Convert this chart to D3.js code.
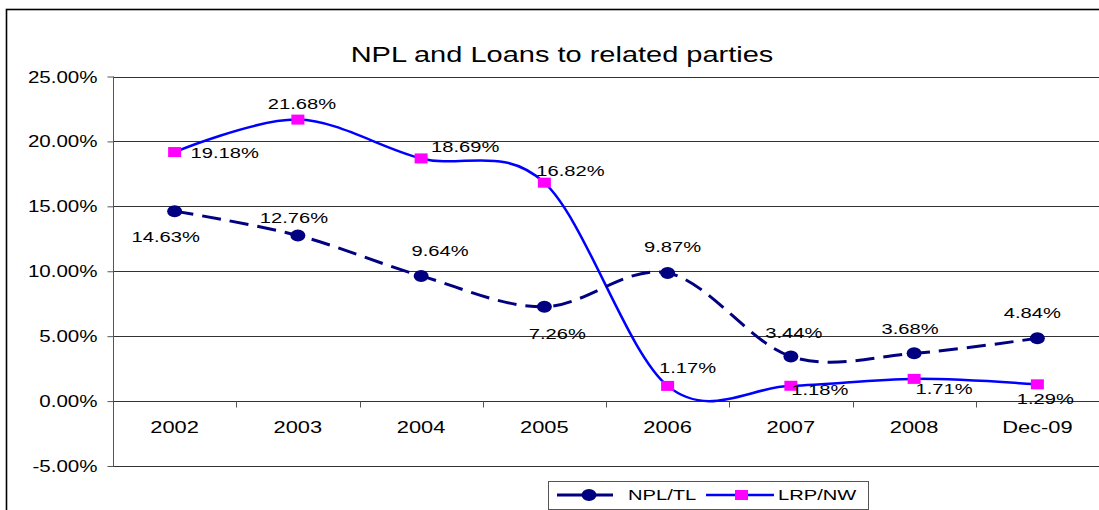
<!DOCTYPE html>
<html>
<head>
<meta charset="utf-8">
<script src="https://cdn.jsdelivr.net/npm/d3@7"></script>
<style>
  html, body { margin: 0; padding: 0; background: #fff; }
  svg { display: block; }
  text { font-family: Arial, "Liberation Sans", sans-serif; fill: #000; }
</style>
</head>
<body>
<svg id="chart" width="1099" height="510"></svg>
<script>
// ---- data ----
const categories = ["2002", "2003", "2004", "2005", "2006", "2007", "2008", "Dec-09"];
const nplTL = [14.63, 12.76, 9.64, 7.26, 9.87, 3.44, 3.68, 4.84];
const lrpNW = [19.18, 21.68, 18.69, 16.82, 1.17, 1.18, 1.71, 1.29];
const yTicks = [-5, 0, 5, 10, 15, 20, 25];
const seriesNames = ["NPL/TL", "LRP/NW"];
const chartTitle = "NPL and Loans to related parties";

// ---- layout (label offsets in px, not data) ----
const nplLabelOffsets = [[-9, 25], [-4, -18], [19, -25], [13, 27], [5, -26], [3, -24], [-4, -25], [-5, -26]];
const lrpLabelOffsets = [[50, 1], [4, -16], [44, -12], [26, -12], [20, -18], [29, 4], [30, 10], [8, 14]];

const SX = 1.3; // horizontal text stretch of the original picture
const svg = d3.select("#chart");
const plot = { left: 113, right: 1099, top: 76.5, bottom: 466 };

const x = d3.scalePoint().domain(categories).range([plot.left, plot.right]).padding(0.5);
const xb = d3.scaleBand().domain(categories).range([plot.left, plot.right]);
const y = d3.scaleLinear().domain([-5, 25]).range([plot.bottom, plot.top]);

function stretchedText(parent, px, py, str, size, anchor) {
  const g = parent.append("g").attr("transform", `translate(${px},${py})`);
  g.append("text")
    .attr("transform", `scale(${SX},1)`)
    .attr("text-anchor", anchor || "middle")
    .attr("dy", "0.35em")
    .style("font-size", size + "px")
    .text(str);
  return g;
}

// outer frame
svg.append("rect").attr("x", 6.5).attr("y", 9.5).attr("width", 1200).attr("height", 600)
  .attr("fill", "none").attr("stroke", "#000").attr("stroke-width", 1.6);

// title
stretchedText(svg, 562, 54, chartTitle, 22.3);

// gridlines
svg.append("g").selectAll("line").data(yTicks).join("line")
  .attr("x1", plot.left).attr("x2", plot.right)
  .attr("y1", d => Math.round(y(d)) + 0.5).attr("y2", d => Math.round(y(d)) + 0.5)
  .attr("stroke", "#333").attr("stroke-width", 1);

// y axis
const yAxisG = svg.append("g").attr("transform", `translate(${plot.left + 0.5},0)`)
  .call(d3.axisLeft(y).tickValues(yTicks).tickSize(6).tickFormat(d => d.toFixed(2) + "%"));
yAxisG.select(".domain").attr("stroke", "#555").attr("d", `M0,${plot.top}V${plot.bottom}`);
yAxisG.selectAll(".tick line").attr("stroke", "#555");
yAxisG.selectAll(".tick text").remove();
yAxisG.selectAll(".tick").each(function (d) {
  stretchedText(d3.select(this), -16, 0, d.toFixed(2) + "%", 15.8, "end");
});

// x axis at zero line
const xAxisG = svg.append("g").attr("transform", `translate(0,${Math.round(y(0)) + 0.5})`);
xAxisG.append("line").attr("x1", plot.left).attr("x2", plot.right).attr("stroke", "#333");
xAxisG.selectAll("line.tk").data(categories).join("line").attr("class", "tk")
  .attr("x1", d => Math.round(xb(d)) + 0.5).attr("x2", d => Math.round(xb(d)) + 0.5)
  .attr("y1", 0).attr("y2", 6).attr("stroke", "#555");
categories.forEach(c => stretchedText(xAxisG, x(c), 25.5, c, 16.8));

// lines
const curve = d3.curveCatmullRom.alpha(0);
const lineGen = d3.line().x((d, i) => x(categories[i])).y(d => y(d)).curve(curve);

svg.append("path").datum(lrpNW).attr("d", lineGen)
  .attr("fill", "none").attr("stroke", "#0000FF").attr("stroke-width", 2.5);
svg.append("path").datum(nplTL).attr("d", lineGen)
  .attr("fill", "none").attr("stroke", "#000080").attr("stroke-width", 3)
  .attr("stroke-dasharray", "19,9");

// markers
svg.append("g").selectAll("ellipse").data(nplTL).join("ellipse")
  .attr("cx", (d, i) => x(categories[i])).attr("cy", d => y(d))
  .attr("rx", 7.5).attr("ry", 6).attr("fill", "#000080");
svg.append("g").selectAll("rect").data(lrpNW).join("rect")
  .attr("x", (d, i) => x(categories[i]) - 6.5).attr("y", d => y(d) - 5)
  .attr("width", 13).attr("height", 10).attr("fill", "#FF00FF");

// data labels
const fmt = d => d.toFixed(2) + "%";
nplTL.forEach((v, i) => stretchedText(svg, x(categories[i]) + nplLabelOffsets[i][0], y(v) + nplLabelOffsets[i][1], fmt(v), 15.5));
lrpNW.forEach((v, i) => stretchedText(svg, x(categories[i]) + lrpLabelOffsets[i][0], y(v) + lrpLabelOffsets[i][1], fmt(v), 15.5));

// legend
const lg = svg.append("g");
lg.append("rect").attr("x", 548.5).attr("y", 481.5).attr("width", 320).attr("height", 28)
  .attr("fill", "#fff").attr("stroke", "#555").attr("stroke-width", 1);
const ly = 495;
lg.append("line").attr("x1", 557).attr("x2", 613).attr("y1", ly).attr("y2", ly)
  .attr("stroke", "#000080").attr("stroke-width", 3);
lg.append("ellipse").attr("cx", 589).attr("cy", ly).attr("rx", 7.5).attr("ry", 6).attr("fill", "#000080");
stretchedText(lg, 628, ly, seriesNames[0], 15.5, "start");
lg.append("line").attr("x1", 706).attr("x2", 774).attr("y1", ly).attr("y2", ly)
  .attr("stroke", "#0000FF").attr("stroke-width", 2.5);
lg.append("rect").attr("x", 735).attr("y", ly - 5).attr("width", 13).attr("height", 10).attr("fill", "#FF00FF");
stretchedText(lg, 778, ly, seriesNames[1], 15.5, "start");
</script>
</body>
</html>
